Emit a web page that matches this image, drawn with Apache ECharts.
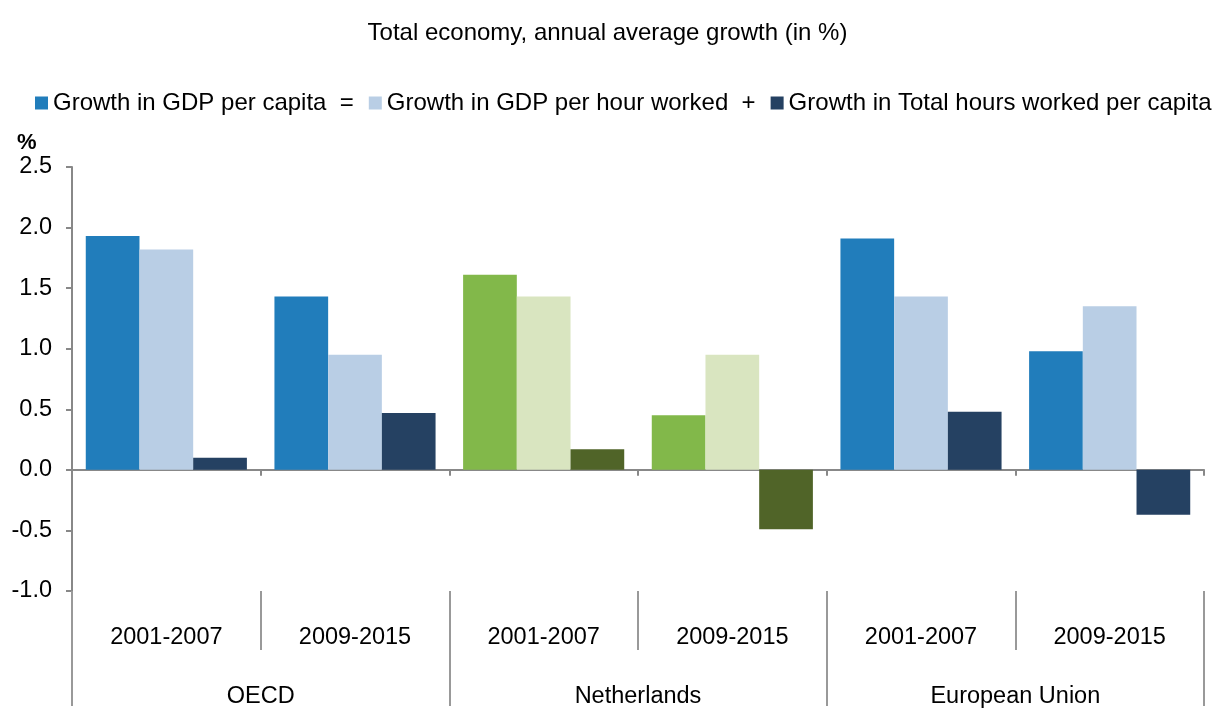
<!DOCTYPE html>
<html>
<head>
<meta charset="utf-8">
<script src="https://cdn.jsdelivr.net/npm/echarts@6/dist/echarts.min.js"></script>
<style>
html, body { margin: 0; padding: 0; background: #fff; }
#main { width: 1215px; height: 709px; }
</style>
</head>
<body>
<div id="main"></div>
<script>
// data
var periods = ['2001-2007', '2009-2015', '2001-2007', '2009-2015', '2001-2007', '2009-2015'];
var regions = ['OECD', 'Netherlands', 'European Union'];
var gdpPerCapita = [1.93, 1.43, 1.61, 0.45, 1.91, 0.98];
var gdpPerHour = [1.82, 0.95, 1.43, 0.95, 1.43, 1.35];
var hoursPerCapita = [0.10, 0.47, 0.17, -0.49, 0.48, -0.37];
var seriesNames = ['Growth in GDP per capita', 'Growth in GDP per hour worked', 'Growth in Total hours worked per capita'];
var yTicks = { min: -1, max: 2.5, step: 0.5 };

var blueColors = ['#217dbb', '#b9cee5', '#254162'];
var greenColors = ['#82b84a', '#d9e5c0', '#506428'];
var nlIndex = [2, 3];
var font = 'Liberation Sans, Arial, sans-serif';
var axisGray = '#888888';
var labelSize = 23.5;

function buildData(values, s) {
	return values.map(function (v, i) {
		if (nlIndex.indexOf(i) >= 0) {
			return { value: v, itemStyle: { color: greenColors[s] } };
		}
		return v;
	});
}

var chart = echarts.init(document.getElementById('main'));
chart.setOption({
	animation: false,
	textStyle: { fontFamily: font },
	title: [
		{
			text: 'Total economy, annual average growth (in %)',
			left: 'center',
			top: 16,
			textStyle: { fontFamily: font, fontSize: 24, fontWeight: 'normal', color: '#000' }
		},
		{
			text: '%',
			left: 12,
			top: 127,
			textStyle: { fontFamily: font, fontSize: 22, fontWeight: 'bold', color: '#000' }
		}
	],
	legend: {
		left: 35,
		top: 91,
		width: 1200,
		padding: 0,
		icon: 'rect',
		itemWidth: 13,
		itemHeight: 13,
		itemGap: 15,
		textStyle: { fontFamily: font, fontSize: 24, color: '#000' },
		formatter: function (name) {
			if (name === seriesNames[0]) return name + '  =';
			if (name === seriesNames[1]) return name + '  +';
			return name;
		},
		data: seriesNames
	},
	grid: { left: 72, right: 11, top: 167, bottom: 115, containLabel: false },
	yAxis: {
		type: 'value',
		min: yTicks.min,
		max: yTicks.max,
		interval: yTicks.step,
		axisLine: { show: true, lineStyle: { color: axisGray, width: 2 } },
		axisTick: { show: true, length: 6, lineStyle: { color: axisGray, width: 2 } },
		splitLine: { show: false },
		axisLabel: {
			margin: 20,
			fontSize: labelSize,
			color: '#000',
			fontFamily: font,
			formatter: function (v) { return v.toFixed(1); }
		}
	},
	xAxis: [
		{
			type: 'category',
			data: periods,
			axisLine: { onZero: true, lineStyle: { color: axisGray, width: 2 } },
			axisTick: { show: true, length: 6, interval: 0, lineStyle: { color: axisGray, width: 2 } },
			axisLabel: { show: false }
		},
		{
			type: 'category',
			position: 'bottom',
			data: periods,
			axisLine: { show: false, onZero: false },
			axisTick: { show: true, length: 59, interval: 0, lineStyle: { color: '#999', width: 2 } },
			axisLabel: { interval: 0, margin: 35, fontSize: labelSize, color: '#000', fontFamily: font }
		},
		{
			type: 'category',
			position: 'bottom',
			data: regions,
			axisLine: { show: false, onZero: false },
			axisTick: { show: true, length: 115, interval: 0, lineStyle: { color: '#999', width: 2 } },
			axisLabel: { interval: 0, margin: 94, fontSize: labelSize, color: '#000', fontFamily: font }
		}
	],
	series: [
		{
			name: seriesNames[0],
			type: 'bar',
			xAxisIndex: 0,
			barGap: '0%',
			barCategoryGap: '14.6%',
			itemStyle: { color: blueColors[0] },
			data: buildData(gdpPerCapita, 0)
		},
		{
			name: seriesNames[1],
			type: 'bar',
			xAxisIndex: 0,
			barGap: '0%',
			barCategoryGap: '14.6%',
			itemStyle: { color: blueColors[1] },
			data: buildData(gdpPerHour, 1)
		},
		{
			name: seriesNames[2],
			type: 'bar',
			xAxisIndex: 0,
			barGap: '0%',
			barCategoryGap: '14.6%',
			itemStyle: { color: blueColors[2] },
			data: buildData(hoursPerCapita, 2)
		}
	]
});
</script>
</body>
</html>
